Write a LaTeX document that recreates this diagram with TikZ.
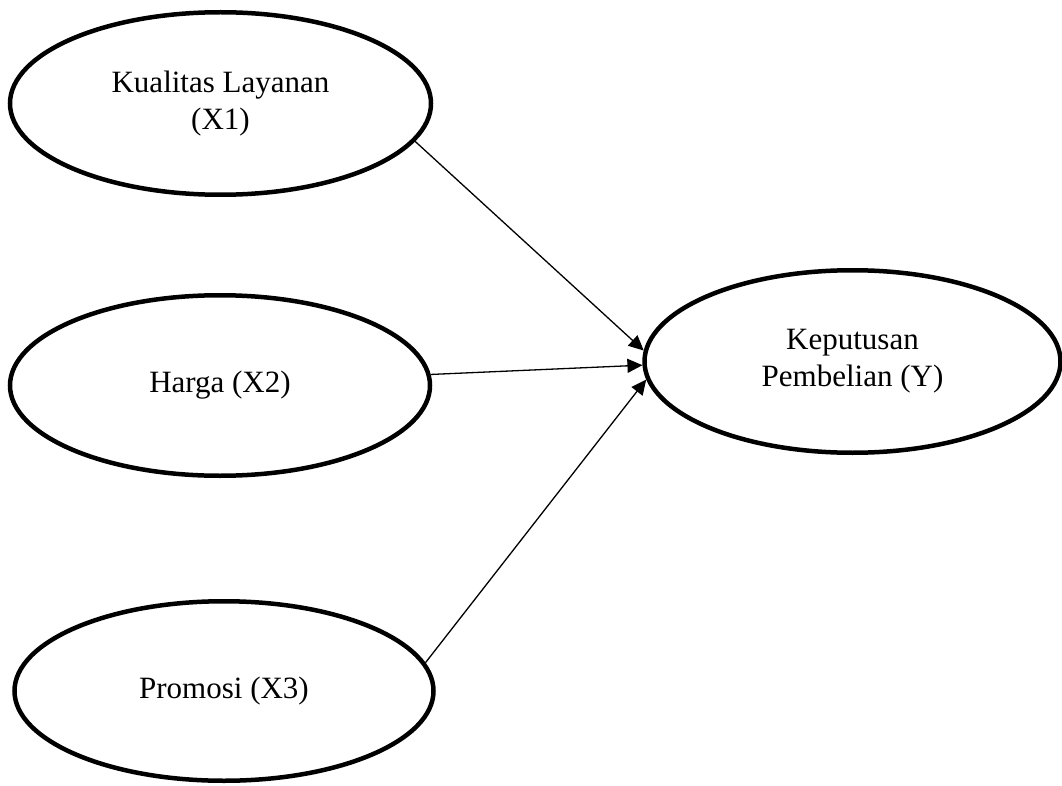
\documentclass[tikz,border=0pt]{standalone}
\usepackage{fontspec}
\setmainfont{Liberation Serif}
\usetikzlibrary{shapes.geometric,arrows.meta}
\begin{document}
\begin{tikzpicture}[x=1pt,y=-1pt,
  var/.style={ellipse, draw=black, line width=4.5pt, inner sep=0pt,
    align=center, font=\fontsize{31}{37}\selectfont},
  link/.style={line width=1.3pt, -{Triangle[length=15pt,width=14pt]}}]
\useasboundingbox (0,0) rectangle (1062,786);
\node[var, minimum width=421, minimum height=182.5] (X1) at (220.5,103.5) {Kualitas Layanan\\(X1)};
\node[var, minimum width=420, minimum height=180.5] (X2) at (220,385.5) {Harga (X2)};
\node[var, minimum width=419, minimum height=179.5] (X3) at (224,691) {Promosi (X3)};
\node[var, minimum width=416, minimum height=182.5] (Y) at (852.5,361.5) {Keputusan\\Pembelian (Y)};
\draw[link] (X1.-11) -- (Y.177);
\draw[link] (X2.3) -- (Y.181.5);
\draw[link] (X3.8) -- (Y.185);
\end{tikzpicture}
\end{document}
